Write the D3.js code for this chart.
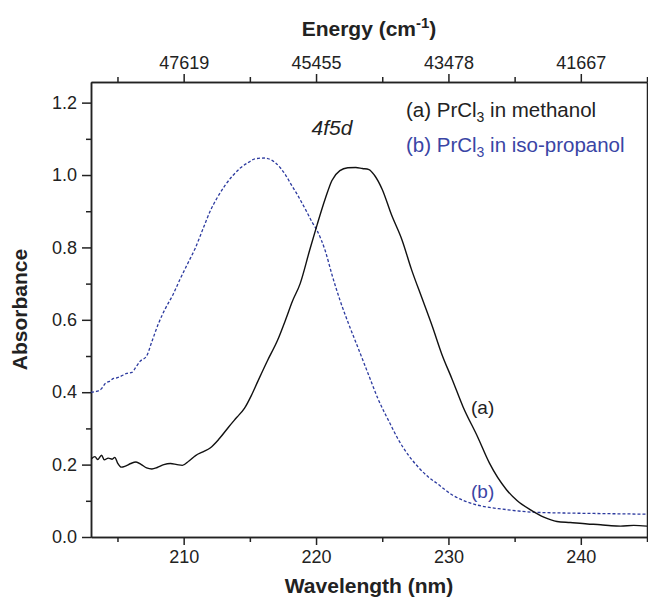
<!DOCTYPE html>
<html><head><meta charset="utf-8">
<script src="https://cdn.jsdelivr.net/npm/d3@7"></script>
<style>body{margin:0;background:#fff}svg{display:block;font-family:"Liberation Sans",Arial,sans-serif}</style>
</head><body><svg id="c" width="648" height="600"></svg>
<script>
const wlTicks=[210,220,230,240];
const wlMinor=[205,215,225,235,245];
const energyLabels=["47619","45455","43478","41667"];
const yTicks=[0,0.2,0.4,0.6,0.8,1.0,1.2];
const yMinor=[0.1,0.3,0.5,0.7,0.9,1.1];
const seriesA_wl=[203.0,203.3,203.5,203.8,204.0,204.3,204.6,204.8,205.0,205.3,205.6,206.0,206.4,206.8,207.2,207.6,208.0,208.5,209.0,209.5,209.9,210.4,210.9,211.5,212.0,212.7,213.4,214.0,214.6,215.1,215.6,216.3,217.1,217.7,218.2,218.8,219.5,220.1,220.7,221.2,221.8,222.4,223.0,223.5,224.0,224.4,225.0,225.7,226.5,227.2,228.0,228.8,229.5,230.3,231.1,232.2,233.1,234.4,235.2,236.2,237.2,238.2,239.2,240.5,241.5,242.3,243.0,244.0,245.0];
const seriesA_abs=[0.215,0.222,0.214,0.226,0.213,0.218,0.215,0.220,0.205,0.193,0.196,0.203,0.207,0.200,0.191,0.188,0.192,0.200,0.203,0.200,0.198,0.210,0.225,0.236,0.246,0.272,0.304,0.330,0.356,0.390,0.430,0.485,0.544,0.600,0.650,0.700,0.790,0.865,0.935,0.985,1.012,1.020,1.021,1.018,1.015,1.000,0.960,0.890,0.820,0.740,0.660,0.580,0.505,0.434,0.360,0.277,0.204,0.130,0.100,0.075,0.055,0.043,0.040,0.036,0.034,0.031,0.030,0.032,0.030];
const seriesB_wl=[203.0,203.4,203.8,204.1,204.4,204.7,205.0,205.3,205.7,206.1,206.4,206.7,207.2,207.6,208.1,208.6,209.2,209.7,210.3,210.9,211.5,212.0,212.5,213.1,213.7,214.3,214.9,215.4,216.1,216.6,216.9,217.3,217.7,218.1,218.6,219.2,219.7,220.1,220.7,221.2,221.8,222.5,223.2,224.0,224.7,225.5,226.2,227.0,227.8,228.5,229.1,230.3,231.2,232.2,233.2,234.1,235.2,236.2,237.7,239.2,241.0,243.0,245.0];
const seriesB_abs=[0.400,0.402,0.410,0.425,0.430,0.438,0.440,0.445,0.452,0.455,0.470,0.485,0.500,0.540,0.590,0.630,0.670,0.710,0.755,0.800,0.855,0.900,0.935,0.970,0.998,1.020,1.035,1.045,1.047,1.042,1.035,1.020,1.000,0.975,0.945,0.905,0.870,0.845,0.790,0.725,0.655,0.585,0.520,0.445,0.380,0.320,0.270,0.225,0.190,0.165,0.149,0.116,0.100,0.088,0.081,0.077,0.072,0.069,0.067,0.066,0.065,0.064,0.063];

const svg=d3.select("#c");
const L=91,R=647,T=82,B=537;
const x=d3.scaleLinear().domain([203,245]).range([L,R]);
const y=d3.scaleLinear().domain([0,1.257]).range([B,T]);
const ink="#222";
const tickFont=18;

function styleAxis(g){g.selectAll("path,line").attr("stroke",ink).attr("stroke-width",1.5);g.selectAll("text").attr("font-size",tickFont).attr("fill",ink).attr("font-family","Liberation Sans, Arial, sans-serif");}

svg.append("g").attr("transform",`translate(0,${B})`).call(d3.axisBottom(x).tickValues(wlTicks).tickSize(8).tickSizeOuter(0).tickPadding(5).tickFormat(d3.format("d"))).call(styleAxis);
svg.append("g").attr("transform",`translate(0,${B})`).call(d3.axisBottom(x).tickValues(wlMinor).tickSize(5).tickSizeOuter(0).tickFormat("")).call(styleAxis);
svg.append("g").attr("transform",`translate(0,${T})`).call(d3.axisTop(x).tickValues(wlTicks).tickSize(8).tickSizeOuter(0).tickPadding(5).tickFormat((d,i)=>energyLabels[i])).call(styleAxis);
svg.append("g").attr("transform",`translate(0,${T})`).call(d3.axisTop(x).tickValues(wlMinor).tickSize(5).tickSizeOuter(0).tickFormat("")).call(styleAxis);
svg.append("g").attr("transform",`translate(${L},0)`).call(d3.axisLeft(y).tickValues(yTicks).tickSize(9).tickSizeOuter(0).tickPadding(5).tickFormat(d3.format(".1f"))).call(styleAxis);
svg.append("g").attr("transform",`translate(${L},0)`).call(d3.axisLeft(y).tickValues(yMinor).tickSize(5).tickSizeOuter(0).tickFormat("")).call(styleAxis);
svg.append("g").attr("transform",`translate(${R},0)`).call(d3.axisRight(y).tickValues([]).tickSizeOuter(0)).call(styleAxis);

svg.append("clipPath").attr("id","clip").append("rect").attr("x",L).attr("y",T).attr("width",R-L).attr("height",B-T);

const line=d3.line().x(d=>x(d[0])).y(d=>y(d[1])).curve(d3.curveMonotoneX);
const dataA=seriesA_wl.map((w,i)=>[w,seriesA_abs[i]]);
const dataB=seriesB_wl.map((w,i)=>[w,seriesB_abs[i]]);
const blue="#2c3a9f";
svg.append("path").datum(dataB).attr("clip-path","url(#clip)").attr("d",line).attr("fill","none").attr("stroke",blue).attr("stroke-width",1.3).attr("stroke-dasharray","3,2");
svg.append("path").datum(dataA).attr("clip-path","url(#clip)").attr("d",line).attr("fill","none").attr("stroke","#111").attr("stroke-width",1.4);

svg.append("text").attr("x",(L+R)/2).attr("y",593).attr("text-anchor","middle").attr("font-size",21).attr("font-weight","bold").attr("fill",ink).text("Wavelength (nm)");
const et=svg.append("text").attr("x",(L+R)/2).attr("y",36).attr("text-anchor","middle").attr("font-size",21).attr("font-weight","bold").attr("fill",ink);
et.append("tspan").text("Energy (cm");
et.append("tspan").attr("dy",-8).attr("font-size",15).text("-1");
et.append("tspan").attr("dy",8).text(")");
svg.append("text").attr("transform",`translate(27,${(T+B)/2}) rotate(-90)`).attr("text-anchor","middle").attr("font-size",21).attr("font-weight","bold").attr("fill",ink).text("Absorbance");

svg.append("text").attr("x",332).attr("y",135).attr("text-anchor","middle").attr("font-size",21).attr("font-style","italic").attr("fill",ink).text("4f5d");
function legendLine(yy,label,solvent,color){
  const t=svg.append("text").attr("x",406).attr("y",yy).attr("font-size",20.5).attr("fill",color);
  t.append("tspan").text(label+" PrCl");
  t.append("tspan").attr("dy",5).attr("font-size",14).text("3");
  t.append("tspan").attr("dy",-5).text(" in "+solvent);
}
legendLine(117,"(a)","methanol",ink);
legendLine(152,"(b)","iso-propanol","#3a45a5");
svg.append("text").attr("x",471).attr("y",414).attr("font-size",19).attr("fill",ink).text("(a)");
svg.append("text").attr("x",471).attr("y",498).attr("font-size",19).attr("fill","#3a45a5").text("(b)");
</script></body></html>
